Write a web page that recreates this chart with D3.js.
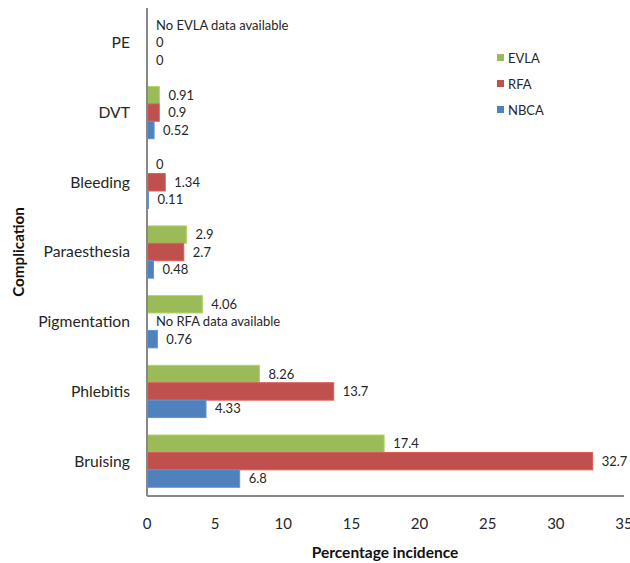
<!DOCTYPE html>
<html>
<head>
<meta charset="utf-8">
<script src="https://cdn.jsdelivr.net/npm/d3@7"></script>
<style>
  body { margin: 0; background: #fff; }
  svg { font-family: Lato, "Open Sans", sans-serif; }
</style>
</head>
<body>
<div id="chart"></div>
<script>
// categories, top to bottom
var categories = ['PE', 'DVT', 'Bleeding', 'Paraesthesia', 'Pigmentation', 'Phlebitis', 'Bruising'];
var seriesNames = ['EVLA', 'RFA', 'NBCA'];
var colors = ['#9bbb59', '#c0504d', '#4f81bd'];

// null = no data available
var evla = [null, 0.91, 0, 2.9, 4.06, 8.26, 17.4];
var rfa  = [0, 0.9, 1.34, 2.7, null, 13.7, 32.7];
var nbca = [0, 0.52, 0.11, 0.48, 0.76, 4.33, 6.8];

var xTicks = [0, 5, 10, 15, 20, 25, 30, 35];

var width = 630,
	height = 563,
	margin = {top: 8, right: 6, bottom: 67, left: 147};

var svg = d3.select('#chart').append('svg')
	.attr('width', width)
	.attr('height', height);

var x = d3.scaleLinear().domain([0, 35]).range([margin.left, width - margin.right]);
var y = d3.scaleBand().domain(categories).range([margin.top, height - margin.bottom]).paddingInner(0.25).paddingOuter(0.125);
var ySub = d3.scaleBand().domain(seriesNames).range([0, y.bandwidth()]);

var series = [evla, rfa, nbca];

series.forEach(function(vals, si) {
	var g = svg.append('g');
	g.selectAll('rect')
		.data(vals.map(function(v, i) { return {cat: categories[i], v: v}; }).filter(function(d) { return d.v; }))
		.enter().append('rect')
		.attr('x', x(0))
		.attr('y', function(d) { return y(d.cat) + ySub(seriesNames[si]); })
		.attr('width', function(d) { return x(d.v) - x(0); })
		.attr('height', ySub.bandwidth())
		.attr('fill', colors[si])
		.attr('stroke', d3.color(colors[si]).brighter(0.4))
		.attr('stroke-width', 1);

	g.selectAll('text')
		.data(vals.map(function(v, i) { return {cat: categories[i], v: v}; }))
		.enter().append('text')
		.attr('x', function(d) { return x(d.v || 0) + 9; })
		.attr('y', function(d) { return y(d.cat) + ySub(seriesNames[si]) + ySub.bandwidth() / 2; })
		.attr('dy', '0.35em')
		.attr('font-size', 13)
		.attr('fill', '#262626')
		.text(function(d) { return d.v === null ? 'No ' + seriesNames[si] + ' data available' : d.v; });
});

// axes (lines only, no tick marks)
var axisColor = '#888';
svg.append('line')
	.attr('x1', x(0)).attr('x2', x(0))
	.attr('y1', margin.top).attr('y2', height - margin.bottom)
	.attr('stroke', axisColor).attr('stroke-width', 2);
svg.append('line')
	.attr('x1', x(0)).attr('x2', x(35))
	.attr('y1', height - margin.bottom).attr('y2', height - margin.bottom)
	.attr('stroke', axisColor).attr('stroke-width', 2);

svg.append('g').selectAll('text')
	.data(xTicks).enter().append('text')
	.attr('x', function(d) { return x(d); })
	.attr('y', height - margin.bottom + 33)
	.attr('text-anchor', 'middle')
	.attr('font-size', 15)
	.attr('fill', '#262626')
	.text(function(d) { return d; });

svg.append('g').selectAll('text')
	.data(categories).enter().append('text')
	.attr('x', 130)
	.attr('y', function(d) { return y(d) + y.bandwidth() / 2; })
	.attr('dy', '0.35em')
	.attr('text-anchor', 'end')
	.attr('font-size', 15.7)
	.attr('fill', '#262626')
	.text(function(d) { return d; });

// axis titles
svg.append('text')
	.attr('x', 385)
	.attr('y', 558)
	.attr('text-anchor', 'middle')
	.attr('font-size', 15.5)
	.attr('font-weight', 'bold')
	.attr('fill', '#111')
	.text('Percentage incidence');

svg.append('text')
	.attr('transform', 'translate(24,' + 252 + ') rotate(-90)')
	.attr('text-anchor', 'middle')
	.attr('font-size', 15.2)
	.attr('font-weight', 'bold')
	.attr('fill', '#111')
	.text('Complication');

// legend
var legend = svg.append('g').selectAll('g')
	.data(seriesNames).enter().append('g')
	.attr('transform', function(d, i) { return 'translate(497,' + (58 + i * 26) + ')'; });
legend.append('rect')
	.attr('x', 0).attr('y', -4)
	.attr('width', 7).attr('height', 7)
	.attr('fill', function(d, i) { return colors[i]; });
legend.append('text')
	.attr('x', 11)
	.attr('dy', '0.35em')
	.attr('font-size', 13)
	.attr('fill', '#262626')
	.text(function(d) { return d; });
</script>
</body>
</html>
